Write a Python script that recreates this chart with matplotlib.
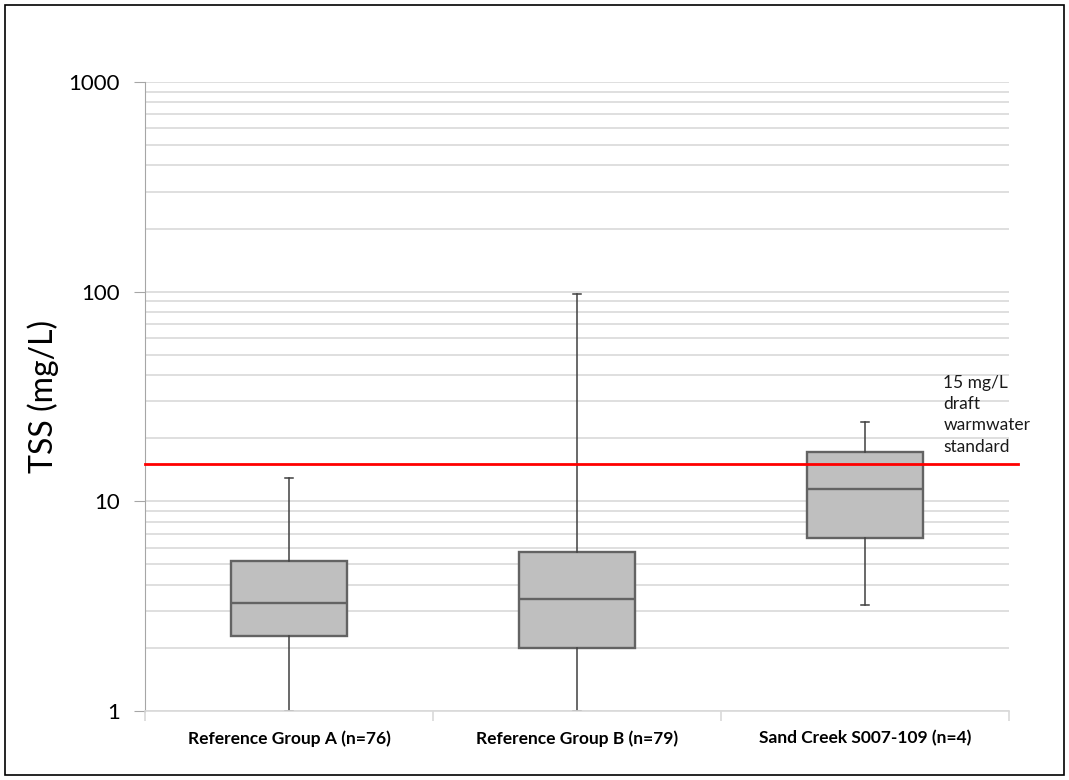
import matplotlib
matplotlib.use("Agg")
import matplotlib.pyplot as plt
from matplotlib.patches import Rectangle
from matplotlib.ticker import LogLocator, NullFormatter, FixedLocator

plt.rcParams['font.family'] = ['Lato', 'DejaVu Sans']

# box statistics (mg/L)
groups = ['Reference Group A (n=76)', 'Reference Group B (n=79)', 'Sand Creek S007-109 (n=4)']
whis_lo = [1.0, 1.0, 3.19]
q1 = [2.28, 2.0, 6.67]
median = [3.28, 3.42, 11.4]
q3 = [5.2, 5.75, 17.1]
whis_hi = [12.9, 97.3, 23.9]
standard = 15
standard_label = '15 mg/L\ndraft\nwarmwater\nstandard'

stats = []
for i in range(len(groups)):
    stats.append({'label': groups[i], 'whislo': whis_lo[i], 'q1': q1[i], 'med': median[i],
                  'q3': q3[i], 'whishi': whis_hi[i], 'fliers': []})

fig = plt.figure(figsize=(10.69, 7.80), dpi=100)
ax = fig.add_axes([0.1356, 0.0885, 0.8082, 0.8064])

ax.set_yscale('log')
ax.set_ylim(1, 1000)
ax.set_xlim(0.5, 3.5)

# gridlines
ax.yaxis.set_major_locator(LogLocator(base=10))
ax.yaxis.set_minor_locator(LogLocator(base=10, subs=range(2, 10)))
ax.yaxis.set_minor_formatter(NullFormatter())
ax.grid(True, which='both', axis='y', color='#d9d9d9', linewidth=1.2)
ax.set_axisbelow(True)

ax.bxp(stats, positions=[1, 2, 3], widths=0.4, patch_artist=True, showfliers=False,
       boxprops=dict(facecolor='#bfbfbf', edgecolor='#636363', linewidth=1.7),
       medianprops=dict(color='#636363', linewidth=1.7),
       whiskerprops=dict(color='#404040', linewidth=1.1),
       capprops=dict(color='#404040', linewidth=1.1), capwidths=0.03)

ax.axhline(standard, xmin=0, xmax=1.01, color='#ff0000', linewidth=2, clip_on=False, zorder=5)
ax.text(3.272, 17.2, standard_label, fontsize=12.5, va='baseline', ha='left',
        linespacing=1.42, color='#1a1a1a')

# axes styling
for s in ['top', 'right']:
    ax.spines[s].set_visible(False)
ax.spines['left'].set_color('#a6a6a6')
ax.spines['bottom'].set_color('#d9d9d9')
ax.spines['bottom'].set_linewidth(1.2)
ax.tick_params(axis='y', which='major', length=8, color='#a6a6a6', labelsize=16, pad=10)
ax.tick_params(axis='y', which='minor', length=0)
ax.yaxis.set_major_formatter(matplotlib.ticker.FuncFormatter(lambda v, p: f'{int(v)}'))

ax.set_xticks([1, 2, 3])
ax.set_xticklabels(groups, fontweight='bold', fontsize=12.5)
ax.xaxis.set_minor_locator(FixedLocator([0.5, 1.5, 2.5, 3.5]))
ax.tick_params(axis='x', which='major', length=0, pad=14)
ax.tick_params(axis='x', which='minor', length=7, color='#d9d9d9', width=1.2)

ax.set_ylabel('TSS (mg/L)', fontsize=23, labelpad=7)

fig.patches.append(Rectangle((5 / 1069, 5 / 780), 1059 / 1069, 770 / 780, transform=fig.transFigure,
                             fill=False, edgecolor='black', linewidth=1.2))

fig.savefig('out.png', dpi=100)
